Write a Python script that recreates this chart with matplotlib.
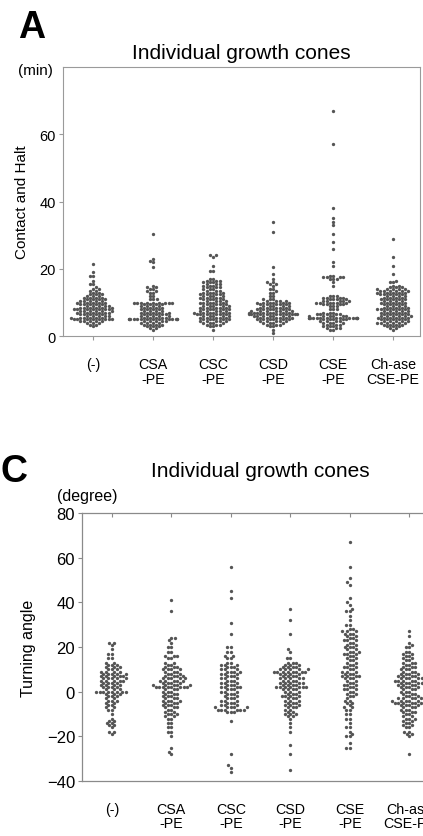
import numpy as np
import pandas as pd
import matplotlib
matplotlib.use("Agg")
import matplotlib.pyplot as plt
import seaborn as sns

plt.rcParams['font.family'] = ['Liberation Sans', 'DejaVu Sans']

# ---------------------------------------------------------------
# categorias
grupos = ['(-)', 'CSA\n-PE', 'CSC\n-PE', 'CSD\n-PE', 'CSE\n-PE', 'Ch-ase\nCSE-PE']

# Painel A: Contact and Halt (min) -- niveis e numero de pontos em cada nivel
a_niv = [
    [21.5, 19, 18, 16.5, 15.5, 14.5, 14, 13.5, 13, 12.5, 12, 11.5, 11, 10.5, 10, 9.5, 9, 8.5, 8, 7.5, 7, 6.5, 6, 5.5, 5, 4.5, 4, 3.5, 3],
    [30.5, 23, 22.5, 22, 20.5, 15, 14.5, 14, 13.5, 13, 12, 11, 10, 9.5, 9, 8.5, 8, 7.5, 7, 6.5, 6, 5.5, 5, 4.5, 4, 3.5, 3, 2.5, 2],
    [24, 23.5, 21, 19.5, 17, 16.5, 16, 15.5, 15, 14.5, 14, 13.5, 13, 12.5, 12, 11.5, 11, 10.5, 10, 9.5, 9, 8.5, 8, 7.5, 7, 6.5, 6, 5.5, 5, 4.5, 4, 3.5, 3, 2],
    [34, 31, 20.5, 18.5, 17, 16, 15.5, 15, 14, 13.5, 13, 12, 11, 10.5, 10, 9.5, 9, 8.5, 8, 7.5, 7, 6.5, 6, 5.5, 5, 4.5, 4, 3.5, 3, 2, 1],
    [67, 57, 38, 35, 34, 33, 30.5, 28, 26, 22, 21, 18, 17.5, 17, 16, 15, 12, 11.5, 11, 10.5, 10, 9.5, 9, 8, 7, 6.5, 6, 5.5, 5, 4.5, 4, 3.5, 3, 2.5, 2],
    [29, 23.5, 21, 18.5, 16.5, 16, 15, 14.5, 14, 13.5, 13, 12.5, 12, 11.5, 11, 10.5, 10, 9.5, 9, 8.5, 8, 7.5, 7, 6.5, 6, 5.5, 5, 4.5, 4, 3.5, 3, 2.5, 2],
]
a_cnt = [
    [1, 1, 2, 1, 2, 1, 2, 2, 2, 3, 3, 4, 4, 5, 5, 5, 5, 6, 7, 6, 6, 5, 5, 6, 8, 5, 3, 2, 1],
    [1, 1, 1, 1, 1, 1, 2, 2, 2, 2, 2, 3, 9, 4, 4, 4, 4, 4, 5, 5, 5, 5, 14, 5, 4, 4, 3, 2, 1],
    [2, 1, 1, 2, 2, 3, 3, 3, 3, 3, 3, 3, 4, 4, 4, 4, 4, 4, 5, 4, 5, 5, 5, 5, 6, 6, 5, 5, 5, 5, 4, 3, 2, 1],
    [1, 1, 1, 1, 1, 2, 2, 1, 2, 1, 2, 2, 3, 4, 6, 5, 5, 5, 6, 7, 8, 10, 7, 6, 6, 5, 4, 3, 2, 1, 1],
    [1, 1, 1, 1, 1, 1, 1, 1, 1, 1, 1, 2, 4, 3, 1, 1, 3, 4, 4, 5, 6, 4, 3, 3, 3, 5, 6, 15, 5, 4, 4, 3, 3, 3, 2],
    [1, 1, 1, 1, 1, 2, 2, 3, 5, 6, 5, 5, 4, 4, 5, 4, 5, 4, 4, 5, 6, 5, 5, 5, 6, 6, 5, 5, 6, 4, 3, 2, 1],
]

# Painel C: Turning angle (degree)
c_niv = [
    [22, 21, 19, 17, 15, 13, 12, 11, 10, 9, 8, 7, 6, 5, 4, 3, 2, 1, 0, -1, -2, -3, -4, -5, -6, -7, -8, -10, -12, -13, -14, -15, -16, -18, -19],
    [41, 36, 24, 23, 22, 20, 18, 16, 15, 13, 12, 11, 10, 9, 8, 7, 6, 5, 4, 3, 2, 1, 0, -1, -2, -3, -4, -5, -6, -7, -8, -9, -10, -11, -12, -14, -16, -18, -20, -25, -27, -28],
    [56, 45, 42, 31, 26, 20, 18, 16, 15, 13, 12, 11, 10, 9, 8, 7, 6, 5, 4, 3, 2, 1, 0, -1, -2, -3, -4, -5, -6, -7, -8, -9, -13, -28, -33, -34, -36],
    [37, 32, 26, 19, 18, 15, 13, 12, 11, 10, 9, 8, 7, 6, 5, 4, 3, 2, 1, 0, -1, -2, -3, -4, -5, -6, -7, -8, -9, -10, -11, -12, -14, -16, -18, -24, -28, -35],
    [67, 56, 51, 49, 48, 42, 40, 39, 37, 36, 34, 32, 30, 28, 27, 26, 25, 24, 23, 22, 21, 20, 19, 18, 17, 16, 15, 14, 13, 12, 11, 10, 9, 8, 7, 6, 5, 4, 3, 2, 1, 0, -1, -2, -3, -4, -5, -6, -7, -8, -10, -12, -14, -16, -18, -19, -20, -23, -25],
    [27, 25, 22, 21, 20, 18, 17, 16, 15, 14, 13, 12, 11, 10, 9, 8, 7, 6, 5, 4, 3, 2, 1, 0, -1, -2, -3, -4, -5, -6, -7, -8, -9, -10, -11, -12, -13, -14, -15, -16, -18, -19, -20, -28],
]
c_cnt = [
    [2, 1, 1, 2, 2, 2, 3, 3, 3, 4, 5, 5, 5, 5, 4, 4, 4, 3, 8, 3, 3, 2, 3, 2, 2, 2, 2, 1, 1, 2, 2, 2, 1, 2, 1],
    [1, 1, 2, 1, 1, 2, 2, 3, 2, 2, 2, 3, 4, 3, 3, 4, 5, 5, 4, 5, 8, 3, 3, 3, 3, 3, 4, 3, 3, 3, 2, 2, 3, 2, 2, 2, 2, 2, 1, 1, 1, 1],
    [1, 1, 1, 1, 1, 2, 2, 2, 2, 2, 3, 3, 3, 4, 3, 3, 3, 3, 3, 3, 4, 3, 3, 3, 2, 3, 3, 3, 3, 5, 6, 3, 1, 1, 1, 1, 1],
    [1, 1, 1, 1, 1, 2, 3, 3, 4, 5, 8, 4, 4, 5, 4, 5, 4, 7, 4, 3, 3, 4, 3, 3, 3, 3, 3, 2, 2, 3, 2, 1, 1, 1, 1, 1, 1, 1],
    [1, 1, 1, 1, 1, 1, 1, 1, 1, 2, 1, 1, 2, 2, 3, 3, 2, 2, 3, 2, 2, 3, 2, 3, 3, 2, 2, 2, 2, 2, 3, 2, 3, 3, 4, 3, 2, 2, 3, 2, 3, 2, 2, 2, 1, 2, 2, 1, 2, 2, 2, 2, 1, 2, 1, 1, 2, 1, 2],
    [1, 1, 1, 1, 2, 2, 2, 2, 2, 2, 3, 2, 3, 3, 3, 4, 4, 5, 7, 5, 4, 4, 3, 3, 3, 3, 5, 5, 7, 4, 3, 3, 3, 2, 2, 3, 2, 2, 2, 2, 2, 2, 1, 1],
]


def monta_df(niv, cnt):
    linhas = []
    for g, v, n in zip(grupos, niv, cnt):
        for val in np.repeat(v, n):
            linhas.append((g, val))
    return pd.DataFrame(linhas, columns=['grupo', 'valor'])


cor_ponto = '#555555'
cor_eixo = '#9a9a9a'
tam = 2.4

fig = plt.figure(figsize=(4.23, 8.37), dpi=100)

# ---------------------------------------------------------------
# Painel A
axA = fig.add_axes([0.149, 0.597, 0.844, 0.322])
sns.swarmplot(data=monta_df(a_niv, a_cnt), x='grupo', y='valor', order=grupos,
              color=cor_ponto, size=tam, linewidth=0, ax=axA)
axA.set_xlim(-0.5, 5.45)
axA.set_ylim(0, 80)
axA.set_yticks([0, 20, 40, 60])
axA.set_xlabel('')
axA.set_ylabel('Contact and Halt', fontsize=11, labelpad=8)
for s in axA.spines.values():
    s.set_color(cor_eixo)
    s.set_linewidth(0.8)
axA.tick_params(axis='y', length=3, color=cor_eixo, labelsize=10.5, pad=2)
axA.tick_params(axis='x', length=3, color=cor_eixo, labelsize=10.3, pad=12)
for t in axA.get_xticklabels():
    t.set_verticalalignment('top')
    t.set_linespacing(1.05)
axA.set_title('Individual growth cones', fontsize=15, pad=6)
fig.text(0.043, 0.966, 'A', fontsize=27, fontweight='heavy', ha='left', va='center')
fig.text(0.043, 0.915, '(min)', fontsize=11, ha='left', va='center')

# ---------------------------------------------------------------
# Painel C
axC = fig.add_axes([0.194, 0.0657, 0.844, 0.320])
sns.swarmplot(data=monta_df(c_niv, c_cnt), x='grupo', y='valor', order=grupos,
              color=cor_ponto, size=tam, linewidth=0, ax=axC)
axC.set_xlim(-0.5, 5.5)
axC.set_ylim(-40, 80)
axC.set_yticks([-40, -20, 0, 20, 40, 60, 80])
axC.set_xlabel('')
axC.set_ylabel('Turning angle', fontsize=11.5, labelpad=8)
for s in axC.spines.values():
    s.set_color('#8a8a8a')
    s.set_linewidth(0.9)
axC.tick_params(axis='y', length=3, color='#8a8a8a', labelsize=12, pad=2)
axC.tick_params(axis='x', top=True, bottom=False, direction='in', length=3,
                color='#8a8a8a', labelsize=10.3, pad=15)
for t in axC.get_xticklabels():
    t.set_verticalalignment('top')
    t.set_linespacing(1.05)
axC.set_title('Individual growth cones', fontsize=15, pad=27)
fig.text(0.0, 0.436, 'C', fontsize=27, fontweight='heavy', ha='left', va='center')
fig.text(0.135, 0.407, '(degree)', fontsize=11.5, ha='left', va='center')

fig.savefig('out.png', dpi=100)
